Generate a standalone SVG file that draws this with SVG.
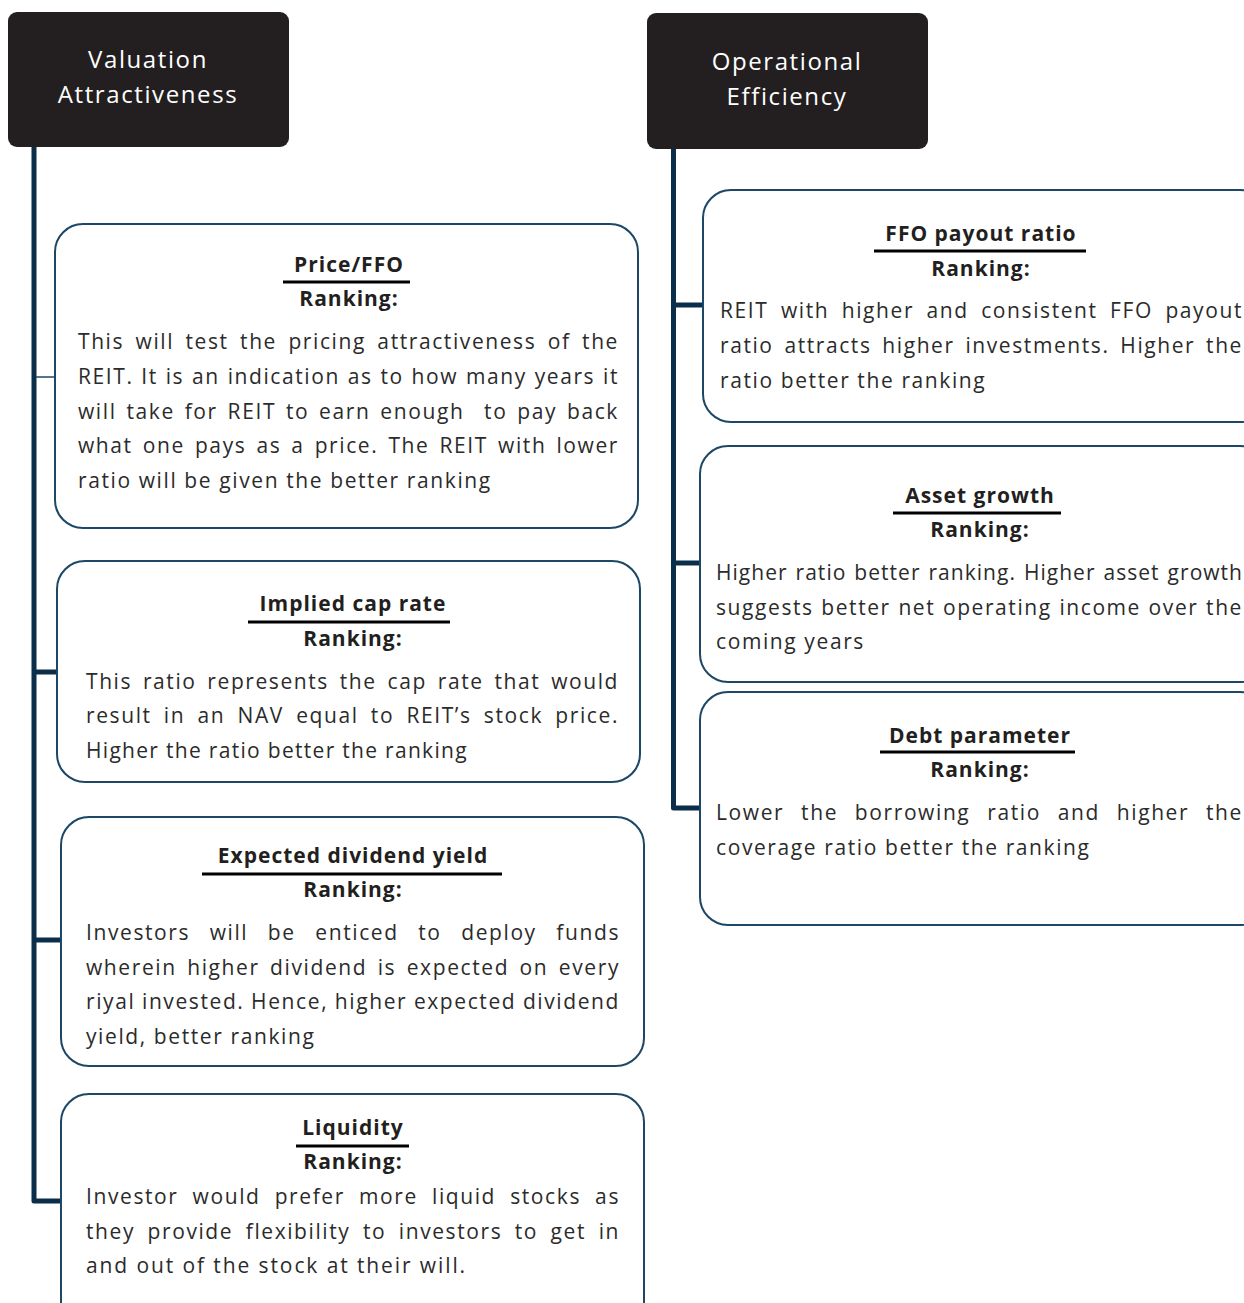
<svg xmlns="http://www.w3.org/2000/svg" width="1244" height="1303" viewBox="0 0 1244 1303">
<style>
.hdr{fill:#231f20}
.hdrt{fill:#ffffff;font-family:"Open Sans","Noto Sans",sans-serif;font-size:24px;letter-spacing:1.6px;text-anchor:middle}
.box{fill:#ffffff;stroke:#1c4766;stroke-width:2}
.ttl{fill:#231f20;font-family:"Open Sans","Noto Sans",sans-serif;font-size:21px;font-weight:bold;letter-spacing:1px;text-anchor:middle}
.ul{stroke:#000000;stroke-width:3}
.bd{fill:#2b2b2b;font-family:"Open Sans","Noto Sans",sans-serif;font-size:21px;letter-spacing:1.6px}
.trunk{fill:none;stroke:#0b2e4a;stroke-width:5;stroke-linejoin:round}
.thin{stroke:#1c4766;stroke-width:1.5}
</style>
<g id="connectors">
<path class="trunk" d="M34 147 V1201 H61"/>
<line class="thin" x1="36" y1="377" x2="55" y2="377"/>
<line class="trunk" x1="34" y1="672" x2="57" y2="672"/>
<line class="trunk" x1="34" y1="940" x2="61" y2="940"/>
<path class="trunk" d="M673.5 149 V808 H700"/>
<line class="trunk" x1="673.5" y1="305" x2="703" y2="305"/>
<line class="trunk" x1="673.5" y1="563" x2="700" y2="563"/>
</g>
<g id="valuation">
<rect class="hdr" x="8" y="12" width="281" height="135" rx="9"/>
<text class="hdrt" x="148" y="68">Valuation</text>
<text class="hdrt" x="148" y="103">Attractiveness</text>
</g>
<g id="operational">
<rect class="hdr" x="647" y="13" width="281" height="136" rx="9"/>
<text class="hdrt" x="787" y="70">Operational</text>
<text class="hdrt" x="787" y="105">Efficiency</text>
</g>
<g id="price-ffo">
<rect class="box" x="55" y="224" width="583" height="304" rx="28"/>
<text class="ttl" x="349" y="272">Price/FFO</text>
<line class="ul" x1="283" y1="282" x2="410" y2="282"/>
<text class="ttl" x="349" y="306">Ranking:</text>
<text class="bd" x="78" y="349" word-spacing="4.4" textLength="541" lengthAdjust="spacing">This will test the pricing attractiveness of the</text>
<text class="bd" x="78" y="384" word-spacing="0.8" textLength="541" lengthAdjust="spacing">REIT. It is an indication as to how many years it</text>
<text class="bd" x="78" y="419" word-spacing="2.8" textLength="541" lengthAdjust="spacing" xml:space="preserve">will take for REIT to earn enough  to pay back</text>
<text class="bd" x="78" y="453" word-spacing="3" textLength="541" lengthAdjust="spacing">what one pays as a price. The REIT with lower</text>
<text class="bd" x="78" y="488">ratio will be given the better ranking</text>
</g>
<g id="implied-cap-rate">
<rect class="box" x="57" y="561" width="583" height="221" rx="28"/>
<text class="ttl" x="353" y="611">Implied cap rate</text>
<line class="ul" x1="248" y1="622" x2="450" y2="622"/>
<text class="ttl" x="353" y="646">Ranking:</text>
<text class="bd" x="86" y="689" word-spacing="3.8" textLength="533" lengthAdjust="spacing">This ratio represents the cap rate that would</text>
<text class="bd" x="86" y="723" word-spacing="5.2" textLength="533" lengthAdjust="spacing">result in an NAV equal to REIT’s stock price.</text>
<text class="bd" x="86" y="758" style="letter-spacing:1.3px">Higher the ratio better the ranking</text>
</g>
<g id="expected-dividend-yield">
<rect class="box" x="61" y="817" width="583" height="249" rx="28"/>
<text class="ttl" x="353" y="863">Expected dividend yield</text>
<line class="ul" x1="202" y1="874" x2="502" y2="874"/>
<text class="ttl" x="353" y="897">Ranking:</text>
<text class="bd" x="86" y="940" word-spacing="12.6" textLength="534" lengthAdjust="spacing">Investors will be enticed to deploy funds</text>
<text class="bd" x="86" y="975" word-spacing="3.4" textLength="534" lengthAdjust="spacing">wherein higher dividend is expected on every</text>
<text class="bd" x="86" y="1009" word-spacing="-0.4" textLength="534" lengthAdjust="spacing">riyal invested. Hence, higher expected dividend</text>
<text class="bd" x="86" y="1044">yield, better ranking</text>
</g>
<g id="liquidity">
<rect class="box" x="61" y="1094" width="583" height="240" rx="28"/>
<text class="ttl" x="353" y="1135">Liquidity</text>
<line class="ul" x1="296" y1="1146" x2="409" y2="1146"/>
<text class="ttl" x="353" y="1169">Ranking:</text>
<text class="bd" x="86" y="1204" word-spacing="7.1" textLength="534" lengthAdjust="spacing">Investor would prefer more liquid stocks as</text>
<text class="bd" x="86" y="1239" word-spacing="5.5" textLength="534" lengthAdjust="spacing">they provide flexibility to investors to get in</text>
<text class="bd" x="86" y="1273" style="letter-spacing:1.9px">and out of the stock at their will.</text>
</g>
<g id="ffo-payout-ratio">
<rect class="box" x="703" y="190" width="565" height="232" rx="28"/>
<text class="ttl" x="981" y="241">FFO payout ratio</text>
<line class="ul" x1="874" y1="251" x2="1086" y2="251"/>
<text class="ttl" x="981" y="276">Ranking:</text>
<text class="bd" x="720" y="318" word-spacing="5.4" textLength="523" lengthAdjust="spacing">REIT with higher and consistent FFO payout</text>
<text class="bd" x="720" y="353" word-spacing="3.8" textLength="523" lengthAdjust="spacing">ratio attracts higher investments. Higher the</text>
<text class="bd" x="720" y="388">ratio better the ranking</text>
</g>
<g id="asset-growth">
<rect class="box" x="700" y="446" width="568" height="236" rx="28"/>
<text class="ttl" x="980" y="503">Asset growth</text>
<line class="ul" x1="893" y1="513" x2="1061" y2="513"/>
<text class="ttl" x="980" y="537">Ranking:</text>
<text class="bd" x="716" y="580" word-spacing="1.5" textLength="527" lengthAdjust="spacing" style="letter-spacing:1px">Higher ratio better ranking. Higher asset growth</text>
<text class="bd" x="716" y="615" word-spacing="0.6" textLength="527" lengthAdjust="spacing">suggests better net operating income over the</text>
<text class="bd" x="716" y="649">coming years</text>
</g>
<g id="debt-parameter">
<rect class="box" x="700" y="692" width="568" height="233" rx="28"/>
<text class="ttl" x="980" y="743">Debt parameter</text>
<line class="ul" x1="880" y1="752" x2="1075" y2="752"/>
<text class="ttl" x="980" y="777">Ranking:</text>
<text class="bd" x="716" y="820" word-spacing="9.8" textLength="527" lengthAdjust="spacing">Lower the borrowing ratio and higher the</text>
<text class="bd" x="716" y="855">coverage ratio better the ranking</text>
</g>
</svg>
